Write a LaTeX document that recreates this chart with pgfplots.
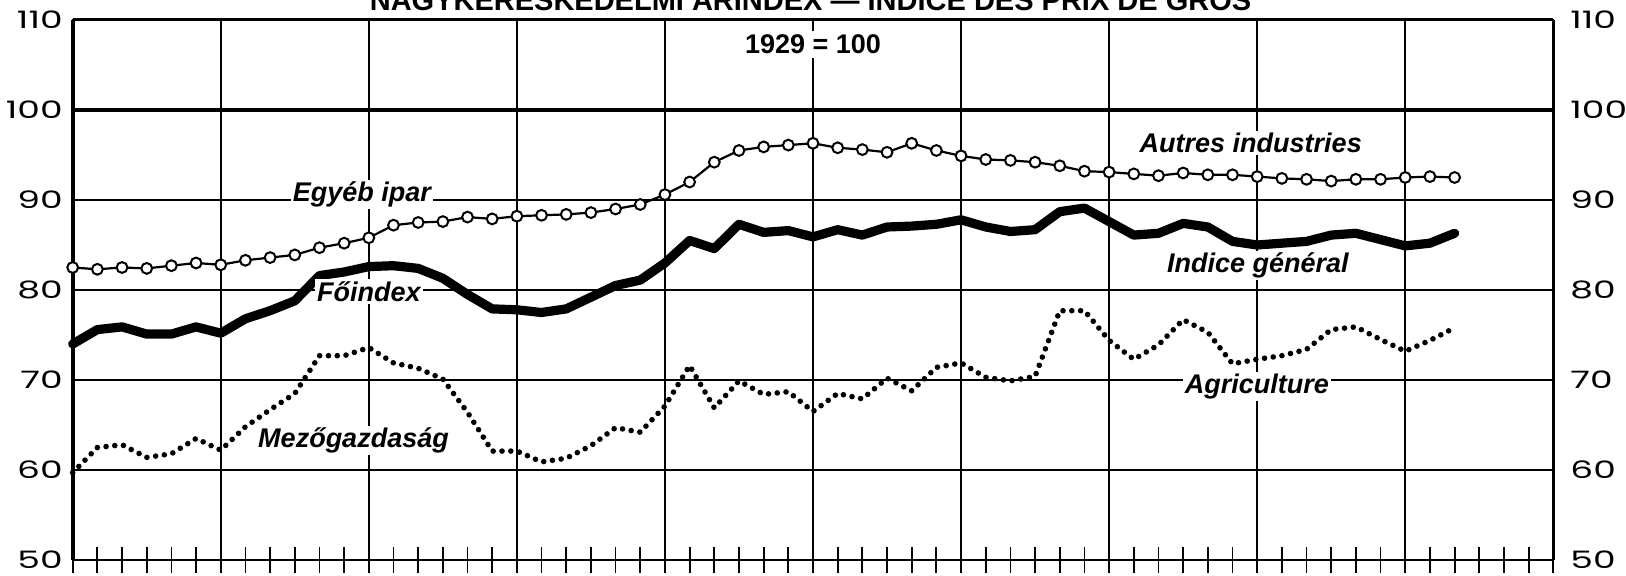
\documentclass[border=0pt]{standalone}
\usepackage{pgfplots}
\pgfplotsset{compat=1.18}
\usepackage{fontspec}
\setmainfont{Liberation Sans}
\newfontfamily\tickfont{Poppins}
\usepackage{graphicx}

\pgfplotstableread{
x y
0 82.5
1 82.3
2 82.5
3 82.4
4 82.7
5 83.0
6 82.8
7 83.3
8 83.6
9 83.9
10 84.7
11 85.2
12 85.8
13 87.2
14 87.5
15 87.6
16 88.1
17 87.9
18 88.2
19 88.3
20 88.4
21 88.6
22 89.0
23 89.5
24 90.6
25 92.0
26 94.2
27 95.5
28 95.9
29 96.1
30 96.3
31 95.8
32 95.6
33 95.3
34 96.3
35 95.5
36 94.9
37 94.5
38 94.4
39 94.2
40 93.8
41 93.2
42 93.1
43 92.9
44 92.7
45 93.0
46 92.8
47 92.8
48 92.6
49 92.4
50 92.3
51 92.1
52 92.3
53 92.3
54 92.5
55 92.6
56 92.5
}\autres

\pgfplotstableread{
x y
0 74.0
1 75.6
2 75.9
3 75.1
4 75.1
5 75.9
6 75.2
7 76.8
8 77.7
9 78.8
10 81.6
11 82.0
12 82.6
13 82.7
14 82.4
15 81.3
16 79.5
17 77.9
18 77.8
19 77.5
20 77.9
21 79.2
22 80.5
23 81.1
24 83.0
25 85.5
26 84.6
27 87.3
28 86.4
29 86.6
30 85.9
31 86.7
32 86.1
33 87.0
34 87.1
35 87.3
36 87.8
37 87.0
38 86.5
39 86.7
40 88.7
41 89.1
42 87.6
43 86.1
44 86.3
45 87.4
46 87.0
47 85.4
48 85.0
49 85.2
50 85.4
51 86.1
52 86.3
53 85.6
54 84.9
55 85.2
56 86.3
}\foindex

\pgfplotstableread{
x y
0 59.7
1 62.5
2 62.8
3 61.4
4 61.8
5 63.5
6 62.2
7 64.8
8 66.7
9 68.5
10 72.7
11 72.7
12 73.6
13 71.9
14 71.3
15 70.1
16 66.4
17 62.1
18 62.1
19 60.9
20 61.3
21 62.7
22 64.7
23 64.2
24 67.1
25 71.6
26 66.9
27 69.9
28 68.4
29 68.7
30 66.5
31 68.5
32 67.9
33 70.2
34 68.8
35 71.4
36 71.9
37 70.3
38 69.9
39 70.4
40 77.7
41 77.7
42 74.4
43 72.3
44 73.9
45 76.7
46 75.3
47 71.8
48 72.3
49 72.7
50 73.4
51 75.6
52 75.9
53 74.5
54 73.2
55 74.4
56 75.8
}\agri

\begin{document}
\begin{tikzpicture}
\useasboundingbox (-36.35pt,-8pt) rectangle (776.65pt,280pt);
\begin{axis}[
  at={(0pt,0pt)}, anchor=south west,
  scale only axis, width=740.3pt, height=270pt,
  xmin=0, xmax=60, ymin=50, ymax=110,
  axis line style={line width=1pt, black},
  xtick={0,1,...,60}, xticklabels={},
  xtick pos=bottom,
  tick align=center,
  major tick length=13pt,
  xtick style={line width=0.9pt, black},
  ytick={50,60,...,110},
  ytick style={draw=none},
  ymajorgrids,
  major grid style={line width=0.85pt, black},
  /pgf/number format/assume math mode=true,
  yticklabel style={font=\tickfont\fontsize{12}{14}\selectfont, xshift=5pt},
  yticklabel={\scalebox{1.5}[1]{\pgfmathprintnumber{\tick}}},
  extra x ticks={6,12,...,54},
  extra x tick labels={},
  extra x tick style={grid=major, major grid style={line width=1pt, black}},
  extra y ticks={100}, extra y tick labels={},
  extra y tick style={grid=major, major tick length=0pt, major grid style={line width=1.8pt, black}},
  clip=false,
]
\addplot[black, line width=4.6pt, line join=round, line cap=round] table {\foindex};
\addplot[black, line width=1.1pt, mark=*, mark size=2.7pt,
  mark options={fill=white, draw=black, line width=1pt, solid}] table {\autres};
\addplot[black, line width=2.8pt, dash pattern=on 0pt off 4.4pt, line cap=round, line join=round] table {\agri};

\draw[line width=2pt] (rel axis cs:0,0) -- (rel axis cs:0,1);
\draw[line width=1.5pt] (rel axis cs:0,1) -- (rel axis cs:1,1);

\node[anchor=base, overlay, font=\bfseries\fontsize{14.5}{17}\selectfont] at (axis cs:29.9,111.1) {NAGYKERESKEDELMI ÁRINDEX — INDICE DES PRIX DE GROS};
\node[fill=white, inner sep=2pt, font=\bfseries\fontsize{13.5}{16}\selectfont] at (axis cs:30,107.3) {1929 = 100};

\tikzset{lbl/.style={anchor=base, fill=white, inner sep=1pt, font=\bfseries\itshape\fontsize{13.5}{16}\selectfont}}
\node[lbl] at (axis cs:11.72,89.8) {Egyéb ipar};
\node[lbl] at (axis cs:12.0,78.75) {Főindex};
\node[lbl] at (axis cs:11.38,62.5) {Mezőgazdaság};
\node[lbl] at (axis cs:47.74,95.25) {Autres industries};
\node[lbl, inner sep=0.8pt] at (axis cs:48.03,81.95) {Indice général};
\node[lbl] at (axis cs:47.99,68.53) {Agriculture};
\end{axis}

\begin{axis}[
  at={(0pt,0pt)}, anchor=south west,
  scale only axis, width=740.3pt, height=270pt,
  xmin=0, xmax=60, ymin=50, ymax=110,
  axis y line*=right, axis x line=none,
  axis line style={line width=1.2pt, black, -},
  ytick={50,60,...,110}, ytick style={draw=none},
  /pgf/number format/assume math mode=true,
  yticklabel style={font=\tickfont\fontsize{12}{14}\selectfont, xshift=5pt},
  yticklabel={\scalebox{1.5}[1]{\pgfmathprintnumber{\tick}}},
]
\end{axis}
\end{tikzpicture}
\end{document}
